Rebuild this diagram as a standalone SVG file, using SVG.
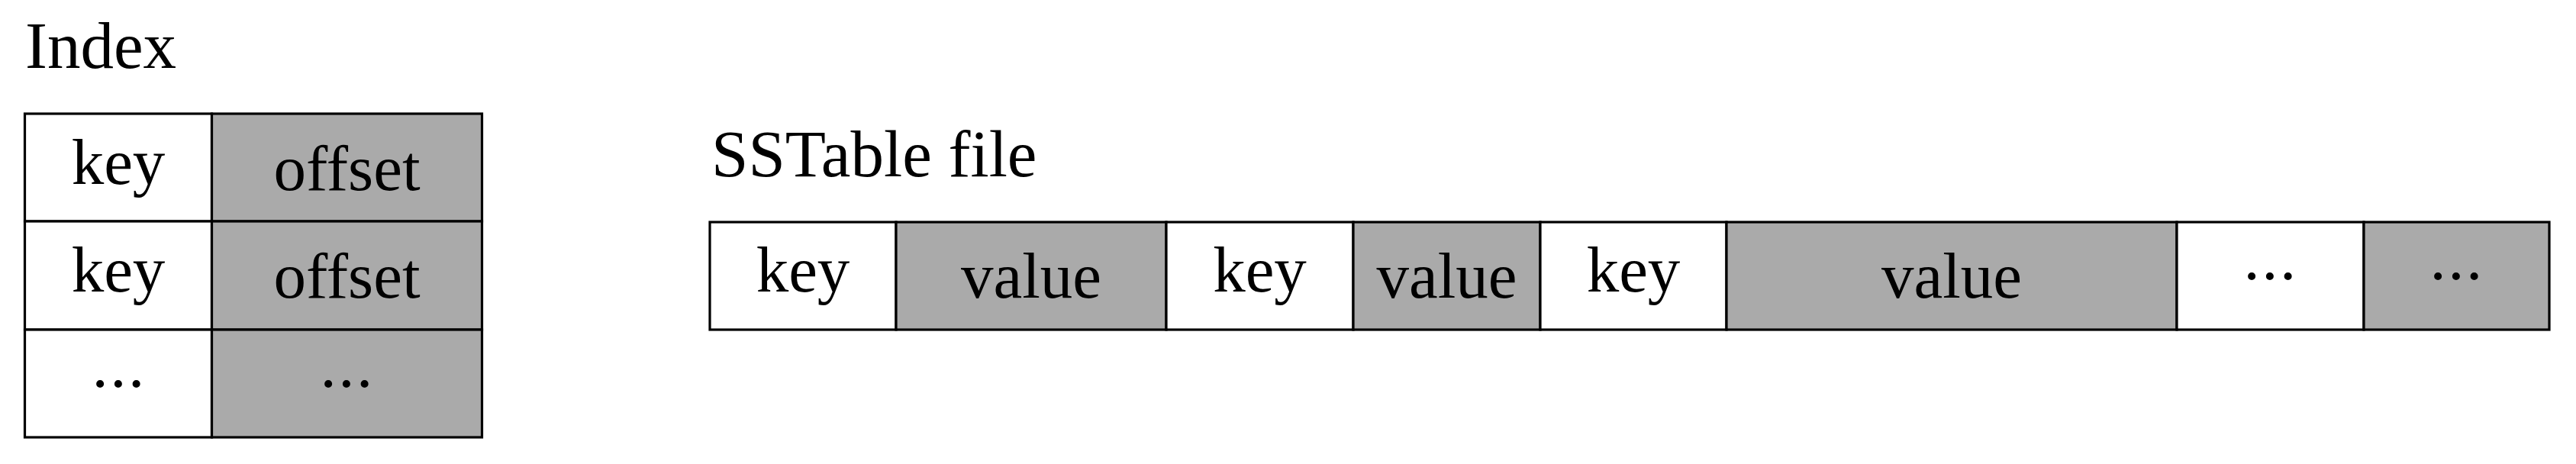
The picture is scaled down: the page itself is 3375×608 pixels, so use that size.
<svg xmlns="http://www.w3.org/2000/svg" width="3375" height="608" viewBox="0 0 3375 608">
<style>
rect.w{fill:#ffffff;stroke:#000000;stroke-width:3.2}
rect.g{fill:#aaaaaa;stroke:#000000;stroke-width:3.2}
text{font-family:"Liberation Serif","Times New Roman",serif;font-size:85px;fill:#000000}
text.t{font-size:87px}
text.c{text-anchor:middle}
text.d{text-anchor:middle;letter-spacing:2.5px}
</style>
<rect x="0" y="0" width="3375" height="608" fill="#ffffff"/>
<g id="index-title"><text class="t" x="33" y="89">Index</text></g>
<g id="sstable-title"><text class="t" x="932" y="231">SSTable file</text></g>
<g id="index-table">
  <g id="idx-r1-key"><rect class="w" x="32.5" y="149" width="245" height="141"/><text class="c" x="155" y="241">key</text></g>
  <g id="idx-r1-off"><rect class="g" x="277.5" y="149" width="354" height="141"/><text class="c" x="454.5" y="249">offset</text></g>
  <g id="idx-r2-key"><rect class="w" x="32.5" y="290" width="245" height="142"/><text class="c" x="155" y="382">key</text></g>
  <g id="idx-r2-off"><rect class="g" x="277.5" y="290" width="354" height="142"/><text class="c" x="454.5" y="390">offset</text></g>
  <g id="idx-r3-key"><rect class="w" x="32.5" y="432" width="245" height="141"/><text class="d" x="156" y="507">...</text></g>
  <g id="idx-r3-off"><rect class="g" x="277.5" y="432" width="354" height="141"/><text class="d" x="455" y="507">...</text></g>
</g>
<g id="sstable">
  <g id="ss-key1"><rect class="w" x="930" y="291" width="244" height="141"/><text class="c" x="1052" y="382">key</text></g>
  <g id="ss-val1"><rect class="g" x="1174" y="291" width="354" height="141"/><text class="c" x="1351" y="390">value</text></g>
  <g id="ss-key2"><rect class="w" x="1528" y="291" width="245" height="141"/><text class="c" x="1650.5" y="382">key</text></g>
  <g id="ss-val2"><rect class="g" x="1773" y="291" width="245" height="141"/><text class="c" x="1895.5" y="390">value</text></g>
  <g id="ss-key3"><rect class="w" x="2018" y="291" width="244" height="141"/><text class="c" x="2140" y="382">key</text></g>
  <g id="ss-val3"><rect class="g" x="2262" y="291" width="590" height="141"/><text class="c" x="2557" y="390">value</text></g>
  <g id="ss-more-key"><rect class="w" x="2852" y="291" width="245" height="141"/><text class="d" x="2975" y="366">...</text></g>
  <g id="ss-more-val"><rect class="g" x="3097" y="291" width="243" height="141"/><text class="d" x="3219" y="366">...</text></g>
</g>
<g id="connectors"/>
</svg>
